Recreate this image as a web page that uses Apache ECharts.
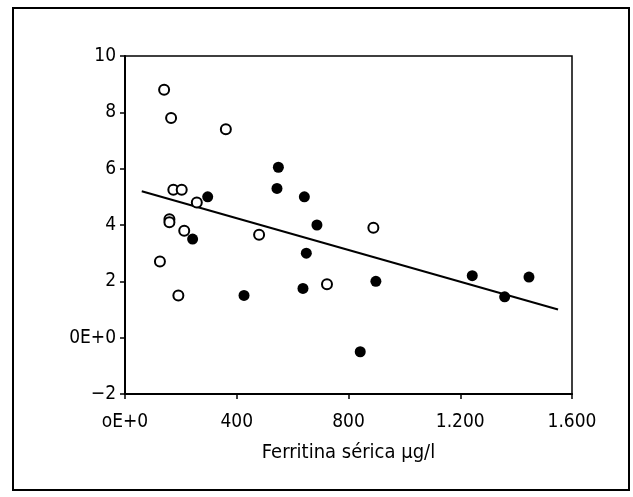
<!DOCTYPE html>
<html>
<head>
<meta charset="utf-8">
<script src="https://cdn.jsdelivr.net/npm/echarts@6/dist/echarts.min.js"></script>
<style>
  html, body { margin: 0; padding: 0; background: #fff; }
  #chart { width: 633px; height: 497px; }
</style>
</head>
<body>
<div id="chart"></div>
<script>
// open circles (ferritin, value)
const openX = [140, 165, 361, 173, 203, 257, 159, 159, 212, 480, 125, 191, 723, 889];
const openY = [8.8, 7.8, 7.4, 5.25, 5.25, 4.8, 4.2, 4.1, 3.8, 3.65, 2.7, 1.5, 1.9, 3.9];
// filled circles
const filledX = [296, 549, 544, 642, 687, 242, 426, 649, 637, 898, 842, 1243, 1359, 1446];
const filledY = [5.0, 6.05, 5.3, 5.0, 4.0, 3.5, 1.5, 3.0, 1.75, 2.0, -0.5, 2.2, 1.45, 2.15];
// regression line ends
const fitX = [60, 1550];
const fitY = [5.2, 1.0];

const xTickLabels = { 0: "oE+0", 400: "400", 800: "800", 1200: "1.200", 1600: "1.600" };
const yTickLabels = { "-2": "\u22122", 0: "0E+0", 2: "2", 4: "4", 6: "6", 8: "8", 10: "10" };

const font = "'DejaVu Sans Condensed', 'Liberation Sans Narrow', sans-serif";
const zip = (xs, ys) => xs.map((x, i) => [x, ys[i]]);

const chart = echarts.init(document.getElementById("chart"));
chart.setOption({
  animation: false,
  graphic: [{
    type: "rect",
    shape: { x: 13, y: 8, width: 616, height: 482 },
    style: { fill: "none", stroke: "#000", lineWidth: 2 }
  }],
  grid: {
    left: 125, right: 61, top: 56, bottom: 103,
    show: true, borderColor: "#000", borderWidth: 1.5
  },
  xAxis: {
    type: "value", min: 0, max: 1600, interval: 400,
    name: "Ferritina sérica µg/l",
    nameLocation: "middle", nameGap: 49,
    nameTextStyle: { color: "#000", fontSize: 20, fontFamily: font },
    axisLine: { onZero: false, lineStyle: { color: "#000", width: 2 } },
    axisTick: { length: 5, lineStyle: { color: "#000", width: 1.5 } },
    axisLabel: {
      color: "#000", fontSize: 19, fontFamily: font, margin: 19,
      formatter: v => xTickLabels[v]
    },
    splitLine: { show: false }
  },
  yAxis: {
    type: "value", min: -2, max: 10, interval: 2,
    axisLine: { onZero: false, lineStyle: { color: "#000", width: 2 } },
    axisTick: { length: 5, lineStyle: { color: "#000", width: 1.5 } },
    axisLabel: {
      color: "#000", fontSize: 19, fontFamily: font, margin: 9,
      formatter: v => yTickLabels[v]
    },
    splitLine: { show: false }
  },
  series: [
    {
      type: "line",
      data: zip(fitX, fitY),
      symbol: "none",
      lineStyle: { color: "#000", width: 2 },
      z: 1
    },
    {
      type: "scatter",
      data: zip(openX, openY),
      symbolSize: 10,
      itemStyle: { color: "#fff", borderColor: "#000", borderWidth: 2, opacity: 1 },
      z: 3
    },
    {
      type: "scatter",
      data: zip(filledX, filledY),
      symbolSize: 11,
      itemStyle: { color: "#000", opacity: 1 },
      z: 3
    }
  ]
});
</script>
</body>
</html>
